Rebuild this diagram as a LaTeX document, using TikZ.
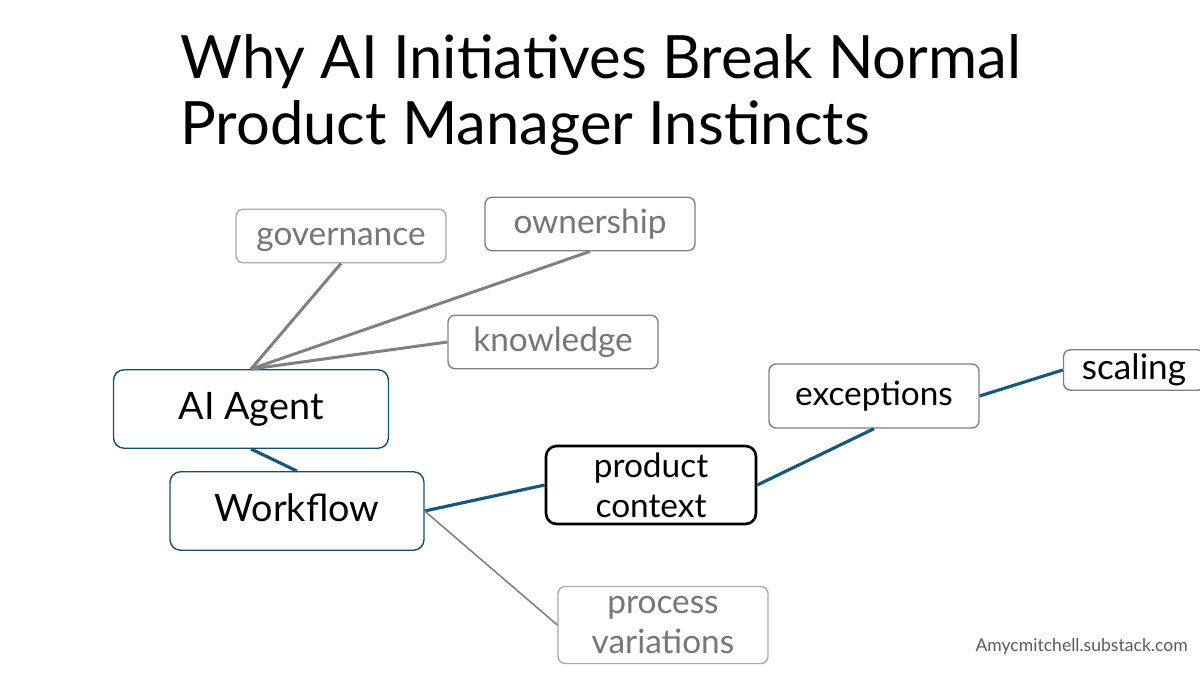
\documentclass[tikz,border=0pt]{standalone}
\usepackage{fontspec}
\setmainfont{Lato}
\usetikzlibrary{positioning}
\definecolor{darkteal}{RGB}{19,80,110}
\definecolor{linkblue}{RGB}{22,88,122}
\definecolor{midgray}{RGB}{128,128,128}
\definecolor{lightgray}{RGB}{170,170,170}
\definecolor{textgray}{RGB}{118,118,118}
\definecolor{footgray}{RGB}{90,90,90}

\begin{document}
\begin{tikzpicture}[x=0.02cm, y=-0.02cm,
        box/.style={rectangle, draw=midgray, fill=white, thick, minimum width=4.2cm, minimum height=1.07cm, align=center, rounded corners=4pt, inner sep=2pt, font=\fontsize{19}{22.7}\selectfont},
        oneline/.style={text height=15pt, text depth=4pt},
        graybox/.style={box, text=textgray},
        mainbox/.style={box, draw=darkteal, text height=17pt, text depth=4.5pt, minimum width=5.5cm, minimum height=1.57cm, rounded corners=6pt, font=\fontsize{21.5}{24}\selectfont},
        link/.style={draw=linkblue, line width=1.8pt},
        graylink/.style={draw=midgray, line width=1.7pt}
    ]
        \useasboundingbox (0,0) rectangle (1200,675);
        % title
        \node[anchor=base west, inner sep=0pt, font=\fontsize{34}{41}\selectfont] (TITLEA) at (180,79) {Why AI Initiatives Break Normal};
        \node[anchor=base west, inner sep=0pt, font=\fontsize{34}{41}\selectfont] (TITLEB) at (180,145) {Product Manager Instincts};
        % boxes
        \node[graybox, oneline, draw=lightgray] (GOV) at (341,236) {governance};
        \node[graybox, oneline] (OWN) at (590,224) {ownership};
        \node[graybox, oneline] (KNOW) at (553,342) {knowledge};
        \node[mainbox] (AGENT) at (251,409) {AI Agent};
        \node[mainbox, minimum width=5.08cm] (WORKFLOW) at (297,511) {Workflow};
        \node[box, draw=black, line width=1.5pt, minimum height=1.56cm, rounded corners=6pt] (PRODUCT) at (651,485) {product\\context};
        \node[box, oneline, minimum height=1.28cm] (EXCEPT) at (874,396) {exceptions};
        \node[box, oneline, minimum width=2.82cm, minimum height=0.8cm, font=\fontsize{20}{22}\selectfont] (SCALING) at (1134,370) {scaling};
        \node[graybox, draw=lightgray, minimum height=1.54cm] (PROCESS) at (663,625) {process\\variations};
        % links
        \draw[graylink] (AGENT.north) -- (GOV.south);
        \draw[graylink] (AGENT.north) -- (OWN.south);
        \draw[graylink] (AGENT.north) -- (KNOW.west);
        \draw[link] (AGENT.south) -- (WORKFLOW.north);
        \draw[link] (WORKFLOW.east) -- (PRODUCT.west);
        \draw[draw=midgray, line width=0.9pt] (WORKFLOW.east) -- (PROCESS.west);
        \draw[link] (PRODUCT.east) -- (EXCEPT.south);
        \draw[link] (EXCEPT.east) -- (SCALING.west);
        % footer
        \node[anchor=base east, inner sep=0pt, text=footgray, font=\fontsize{10}{12}\selectfont] (FOOT) at (1188,651) {Amycmitchell.substack.com};
    \end{tikzpicture}
\end{document}
